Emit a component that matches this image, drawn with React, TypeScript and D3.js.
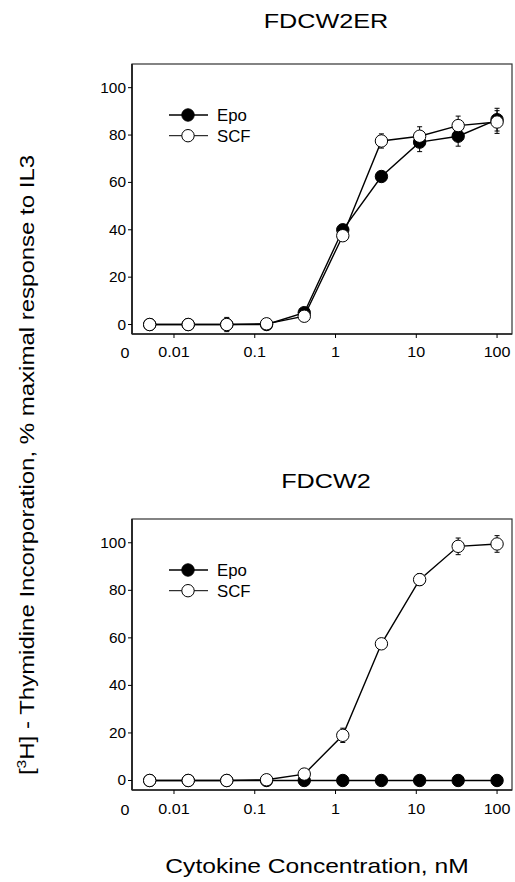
import React from "react";
import * as d3 from "d3";

const concentrations = [0.005, 0.015, 0.045, 0.14, 0.41, 1.23, 3.7, 11, 33, 100];
const xTickValues = [0.01, 0.1, 1, 10, 100];
const xTickLabels = ["0.01", "0.1", "1", "10", "100"];
const yTickValues = [0, 20, 40, 60, 80, 100];

const topEpo = [0, 0, 0, 0, 5, 40, 62.5, 77, 79.5, 86.5];
const topEpoErr = [0.5, 0.5, 0.5, 0.5, 1.5, 1.5, 2, 4, 4.2, 4.8];
const topScf = [0, 0, 0, 0.3, 3.5, 37.5, 77.5, 79.5, 84, 85.5];
const topScfErr = [0.5, 0.5, 3, 0.5, 2, 1.5, 3, 4, 4, 4.8];

const bottomEpo = [0, 0, 0, 0, 0, 0, 0, 0, 0, 0];
const bottomEpoErr = [0.3, 0.3, 0.3, 0.3, 0.3, 0.3, 0.3, 0.3, 0.3, 0.3];
const bottomScf = [0, 0, 0, 0.3, 2.7, 19, 57.5, 84.5, 98.5, 99.5];
const bottomScfErr = [0.3, 0.3, 0.3, 0.3, 2, 3, 2, 2.5, 3.5, 3.5];

const FONT = "'Liberation Sans', Arial, Helvetica, sans-serif";

type TProps = {
  x: number;
  y: number;
  size: number;
  sx?: number;
  anchor?: "start" | "middle" | "end";
  rotate?: number;
  children: React.ReactNode;
};

function T({ x, y, size, sx = 1, anchor = "middle", rotate = 0, children }: TProps) {
  return (
    <text
      transform={`translate(${x},${y}) rotate(${rotate}) scale(${sx},1)`}
      textAnchor={anchor}
      fontSize={size}
      fontFamily={FONT}
      fill="#000"
    >
      {children}
    </text>
  );
}

type PanelProps = {
  title: string;
  titleY: number;
  top: number;
  bottom: number;
  epo: number[];
  epoErr: number[];
  scf: number[];
  scfErr: number[];
  legendY: number;
  tickLabelY: number;
};

const LEFT = 132;
const RIGHT = 512;

function Panel({ title, titleY, top, bottom, epo, epoErr, scf, scfErr, legendY, tickLabelY }: PanelProps) {
  const x = d3.scaleLog().domain([Math.pow(10, -2.52), Math.pow(10, 2.185)]).range([LEFT, RIGHT]);
  const y = d3.scaleLinear().domain([-4, 110]).range([bottom, top]);
  const line = d3
    .line<number>()
    .x((_, i) => x(concentrations[i]))
    .y((d) => y(d));
  const r = 6.2;

  const errBars = (vals: number[], errs: number[], key: string) =>
    vals.map((v, i) => {
      const cx = x(concentrations[i]);
      const y1 = y(v + errs[i]);
      const y2 = y(v - errs[i]);
      return (
        <g key={key + i} stroke="#000" strokeWidth={1}>
          <line x1={cx} x2={cx} y1={y1} y2={y2} />
          <line x1={cx - 2.5} x2={cx + 2.5} y1={y1} y2={y1} />
          <line x1={cx - 2.5} x2={cx + 2.5} y1={y2} y2={y2} />
        </g>
      );
    });

  return (
    <g>
      <T x={(LEFT + RIGHT) / 2 + 4} y={titleY} size={21} sx={1.2}>
        {title}
      </T>
      {/* frame */}
      <rect x={LEFT} y={top} width={RIGHT - LEFT} height={bottom - top} fill="none" stroke="#333" strokeWidth={1.2} />
      <line x1={LEFT} x2={LEFT} y1={top} y2={bottom} stroke="#222" strokeWidth={1.8} />
      <line x1={LEFT} x2={RIGHT} y1={bottom} y2={bottom} stroke="#222" strokeWidth={1.5} />
      {/* y ticks */}
      {yTickValues.map((v) => (
        <g key={"yt" + v}>
          <line x1={LEFT - 4} x2={LEFT} y1={y(v)} y2={y(v)} stroke="#000" strokeWidth={1} />
          <T x={LEFT - 6} y={y(v) + 5} size={14} sx={1.1} anchor="end">
            {String(v)}
          </T>
        </g>
      ))}
      {/* x ticks */}
      {xTickValues.map((v, i) => (
        <g key={"xt" + v}>
          <line x1={x(v)} x2={x(v)} y1={bottom} y2={bottom + 4} stroke="#000" strokeWidth={1} />
          <T x={x(v)} y={tickLabelY} size={14} sx={1.15}>
            {xTickLabels[i]}
          </T>
        </g>
      ))}
      <T x={125} y={tickLabelY + 1} size={14} sx={1.15}>
        0
      </T>
      {/* lines */}
      <path d={line(epo) || ""} fill="none" stroke="#000" strokeWidth={1.4} />
      <path d={line(scf) || ""} fill="none" stroke="#000" strokeWidth={1.4} />
      {errBars(epo, epoErr, "ee")}
      {epo.map((v, i) => (
        <circle key={"e" + i} cx={x(concentrations[i])} cy={y(v)} r={r} fill="#000" stroke="#000" strokeWidth={1} />
      ))}
      {errBars(scf, scfErr, "se")}
      {scf.map((v, i) => (
        <circle key={"s" + i} cx={x(concentrations[i])} cy={y(v)} r={r} fill="#fff" stroke="#000" strokeWidth={1} />
      ))}
      {/* legend */}
      <line x1={169} x2={208} y1={legendY} y2={legendY} stroke="#000" strokeWidth={1.4} />
      <circle cx={188} cy={legendY} r={r} fill="#000" stroke="#000" />
      <T x={217} y={legendY + 5.8} size={16} sx={1.05} anchor="start">
        Epo
      </T>
      <line x1={169} x2={208} y1={legendY + 20.7} y2={legendY + 20.7} stroke="#000" strokeWidth={1} />
      <circle cx={188} cy={legendY + 20.7} r={r} fill="#fff" stroke="#000" />
      <T x={217} y={legendY + 26.5} size={16} sx={1.05} anchor="start">
        SCF
      </T>
    </g>
  );
}

export default function App() {
  return (
    <svg
      width={515}
      height={882}
      viewBox="0 0 515 882"
      style={{ position: "absolute", left: 0, top: 0, background: "#fff" }}
    >
      <rect x={0} y={0} width={515} height={882} fill="#fff" />
      <Panel
        title="FDCW2ER"
        titleY={28}
        top={64}
        bottom={334}
        epo={topEpo}
        epoErr={topEpoErr}
        scf={topScf}
        scfErr={topScfErr}
        legendY={115}
        tickLabelY={357}
      />
      <Panel
        title="FDCW2"
        titleY={488}
        top={519}
        bottom={790}
        epo={bottomEpo}
        epoErr={bottomEpoErr}
        scf={bottomScf}
        scfErr={bottomScfErr}
        legendY={570}
        tickLabelY={814}
      />
      <T x={34} y={465} size={20} sx={1.2} rotate={-90}>
        <tspan>[</tspan>
        <tspan fontSize={13} dy={-8}>3</tspan>
        <tspan dy={8}>H] - Thymidine Incorporation, % maximal response to IL3</tspan>
      </T>
      <T x={317} y={873} size={20.5} sx={1.2}>
        Cytokine Concentration, nM
      </T>
    </svg>
  );
}
